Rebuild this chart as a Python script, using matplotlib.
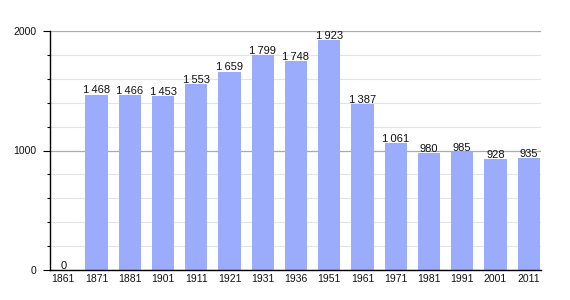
import matplotlib
matplotlib.use("Agg")
import matplotlib.pyplot as plt
from matplotlib.ticker import MultipleLocator

years = ["1861", "1871", "1881", "1901", "1911", "1921", "1931", "1936",
         "1951", "1961", "1971", "1981", "1991", "2001", "2011"]
population = [0, 1468, 1466, 1453, 1553, 1659, 1799, 1748,
              1923, 1387, 1061, 980, 985, 928, 935]

plt.rcParams['font.family'] = ['Liberation Sans', 'DejaVu Sans']

fig = plt.figure(figsize=(5.7, 3.0), dpi=100)
ax = fig.add_axes([50/570, 30/300, 491/570, 239/300])

x = list(range(len(years)))
ax.bar(x, population, width=0.67, color='#9aacfb', zorder=2)

for xi, v in zip(x, population):
    s = f"{v:,}".replace(",", "\u2009")
    ax.text(xi, v - 6, s, ha='center', va='bottom', fontsize=8, color='#111111', zorder=3)

ax.set_xlim(-0.4, 14.37)
ax.set_ylim(0, 2000)
ax.set_xticks(x)
ax.set_xticklabels(years, fontsize=7.5, color='#111111')
ax.set_yticks([0, 1000, 2000])
ax.set_yticklabels(["0", "1000", "2000"], fontsize=7.5, color='#111111')
ax.yaxis.set_minor_locator(MultipleLocator(200))

ax.grid(axis='y', which='major', color='#aaaaaa', linewidth=0.9, zorder=0)
ax.grid(axis='y', which='minor', color='#e4e4e4', linewidth=0.8, zorder=0)
ax.set_axisbelow(True)

ax.tick_params(axis='x', length=0, pad=3)
ax.tick_params(axis='y', which='major', length=5, width=0.8, pad=4.5)
ax.tick_params(axis='y', which='minor', length=2.5, width=0.8)

for side in ['top', 'right']:
    ax.spines[side].set_visible(False)
ax.spines['left'].set_linewidth(1.0)
ax.spines['bottom'].set_linewidth(1.0)

fig.savefig("out.png", dpi=100)
